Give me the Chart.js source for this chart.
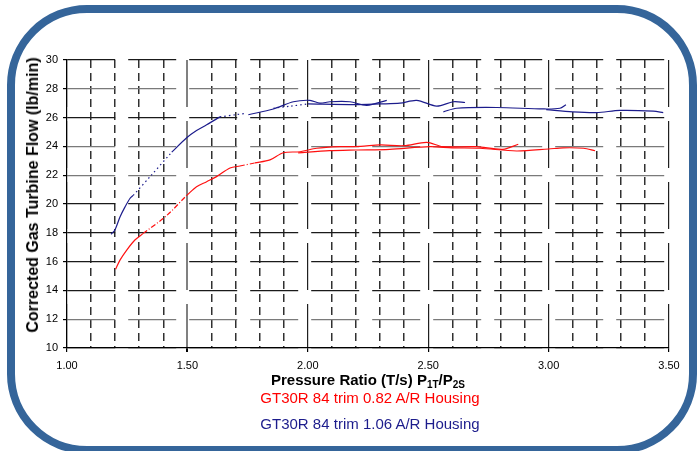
<!DOCTYPE html>
<html lang="en">
<head>
  <meta charset="UTF-8" />
  <title>GT30R Turbine Flow</title>
  <script src="https://cdn.jsdelivr.net/npm/chart.js"></script>
  <style>
    body { margin: 0; background: #fff; font-family: "Liberation Sans", Arial, sans-serif; }
    #wrap { position: relative; width: 697px; height: 451px; overflow: hidden; }
    #frame { position: absolute; left: 7px; top: 5px; width: 690px; height: 449px; box-sizing: border-box;
             border: 8px solid #35659a; border-radius: 80px; }
    #chart { position: absolute; left: 0; top: 0; }
    .txt { position: absolute; left: 120px; width: 500px; text-align: center; font-size: 15px; line-height: 16px; white-space: nowrap; }
    #xtitle { top: 372px; left: 118px; font-weight: bold; color: #000; }
    #xtitle sub { font-size: 10px; vertical-align: -3px; line-height: 0; }
    #legRed { top: 390px; color: #ff0000; }
    #legBlue { top: 416px; color: #1c1c8c; }
    #ytitle { position: absolute; left: 33px; top: 195px; font-size: 16px; font-weight: bold; color: #000;
              white-space: nowrap; transform: translate(-50%, -50%) rotate(-90deg); line-height: 18px; }
  </style>
</head>
<body>
<div id="wrap">
  <div id="frame"></div>
  <canvas id="chart" width="697" height="451"></canvas>
  <div id="ytitle">Corrected Gas Turbine Flow (lb/min)</div>
  <div id="xtitle" class="txt">Pressure Ratio (T/s) P<sub>1T</sub>/P<sub>2S</sub></div>
  <div id="legRed" class="txt">GT30R 84 trim 0.82 A/R Housing</div>
  <div id="legBlue" class="txt">GT30R 84 trim 1.06 A/R Housing</div>
</div>

<script>
  // axis setup
  const xMin = 1.0, xMax = 3.5, xStep = 0.5, xMinorStep = 0.1;
  const yMin = 10, yMax = 30, yStep = 2;

  // 0.82 A/R housing (red) - runs, [pressure ratio, flow]
  const red1 = [[1.202, 15.47], [1.22, 16.1], [1.248, 16.8], [1.282, 17.5], [1.317, 17.96]];
  const red1Gap = [[1.317, 17.96], [1.414, 19.2], [1.497, 20.6]];
  const red2 = [[1.497, 20.6], [1.538, 21.2], [1.58, 21.55], [1.621, 21.9], [1.677, 22.5], [1.718, 22.64]];
  const red2Gap = [[1.718, 22.64], [1.78, 22.85]];
  const red3 = [[1.78, 22.85], [1.843, 23.06], [1.898, 23.56], [1.968, 23.63], [2.037, 23.87], [2.134, 23.98],
                [2.22, 24.0], [2.30, 24.1], [2.40, 24.05], [2.494, 24.28], [2.56, 23.98], [2.70, 23.98],
                [2.81, 23.8], [2.874, 24.15]];
  const red4 = [[1.96, 23.55], [2.09, 23.7], [2.2, 23.75], [2.34, 23.8], [2.507, 23.98], [2.6, 23.9],
                [2.715, 23.87], [2.867, 23.68], [3.0, 23.82], [3.06, 23.9], [3.145, 23.87], [3.193, 23.7]];

  // 1.06 A/R housing (blue)
  const blue1 = [[1.183, 17.9], [1.199, 18.2], [1.22, 19.1], [1.241, 19.8], [1.262, 20.4], [1.275, 20.6]];
  const blue1Gap = [[1.275, 20.6], [1.345, 21.9], [1.435, 23.6]];
  const blue2 = [[1.435, 23.6], [1.497, 24.6], [1.538, 25.1], [1.58, 25.5], [1.635, 26.05]];
  const blue2Gap = [[1.635, 26.05], [1.70, 26.2], [1.745, 26.3]];
  const blue3 = [[1.753, 26.2], [1.857, 26.6], [1.94, 27.1], [2.009, 27.2], [2.05, 27.0], [2.092, 27.1],
                 [2.175, 27.1], [2.245, 26.85], [2.328, 27.2]];
  const blue3Gap = [[1.857, 26.65], [1.93, 26.8], [1.998, 26.94]];
  const blue4 = [[2.0, 26.95], [2.196, 26.9], [2.30, 26.95], [2.383, 27.0], [2.452, 27.2], [2.535, 26.8],
                 [2.604, 27.1], [2.653, 27.05]];
  const blue5 = [[2.563, 26.4], [2.618, 26.65], [2.785, 26.7], [2.978, 26.6], [3.047, 26.65], [3.072, 26.9]];
  const blue6 = [[2.99, 26.55], [3.10, 26.4], [3.2, 26.35], [3.296, 26.5], [3.435, 26.45], [3.476, 26.35]];

  const RED = '#ff1010';
  const BLUE = '#1c1c8c';
  const pts = arr => arr.map(([x, y]) => ({ x, y }));

  function run(arr, color, dash) {
    return {
      data: pts(arr),
      showLine: true,
      borderColor: color,
      borderWidth: 1.2,
      borderDash: dash || [],
      pointRadius: 0,
      tension: 0.3,
      fill: false
    };
  }

  const isHalf = v => Math.abs(v * 2 - Math.round(v * 2)) < 1e-6;
  const font = { family: '"Liberation Sans", Arial, sans-serif', size: 11 };

  new Chart(document.getElementById('chart'), {
    type: 'scatter',
    data: {
      datasets: [
        run(red1, RED), run(red1Gap, RED, [5, 2, 1, 2]), run(red2, RED), run(red2Gap, RED, [5, 2, 1, 2]),
        run(red3, RED), run(red4, RED),
        run(blue1, BLUE), run(blue1Gap, BLUE, [1.5, 3]), run(blue2, BLUE), run(blue2Gap, BLUE, [1.5, 3]),
        run(blue3, BLUE), run(blue3Gap, BLUE, [1.5, 3]), run(blue4, BLUE), run(blue5, BLUE), run(blue6, BLUE)
      ]
    },
    options: {
      responsive: false,
      animation: false,
      layout: { padding: { left: 20, right: 28, top: 60, bottom: 0 } },
      plugins: { legend: { display: false }, tooltip: { enabled: false } },
      scales: {
        x: {
          type: 'linear', position: 'bottom', min: xMin, max: xMax,
          ticks: { stepSize: xStep, color: '#000', font, padding: 7, maxRotation: 0,
                   callback: v => v.toFixed(2) },
          grid: { color: c => (Math.abs(c.tick.value - 1.5) < 1e-6 ? '#808080' : '#202020'),
                  lineWidth: c => (Math.abs(c.tick.value - 1.5) < 1e-6 ? 2 : 1.2),
                  tickLength: 4, tickColor: '#000' },
          border: { display: true, color: '#000', width: 1.2, dash: [47, 14] },
          afterFit: s => { s.height = 103; }
        },
        xm: {
          type: 'linear', position: 'bottom', min: xMin, max: xMax,
          ticks: { stepSize: xMinorStep, display: false },
          grid: { color: c => (isHalf(c.tick.value) ? 'rgba(0,0,0,0)' : '#303030'),
                  lineWidth: 1.5, drawTicks: false },
          border: { display: false, dash: [8, 5] },
          afterFit: s => { s.height = 0; }
        },
        y: {
          type: 'linear', min: yMin, max: yMax,
          ticks: { stepSize: yStep, color: '#000', font, padding: 5 },
          grid: { color: c => ([28, 24, 22, 12].includes(c.tick.value) ? '#7a7a7a' : '#1a1a1a'),
                  lineWidth: 1.2, tickLength: 4, tickColor: '#000' },
          border: { display: true, color: '#000', width: 1.2, dash: [48, 13] },
          title: { display: false },
          afterFit: s => { s.width = 47; }
        }
      }
    }
  });
</script>
</body>
</html>
